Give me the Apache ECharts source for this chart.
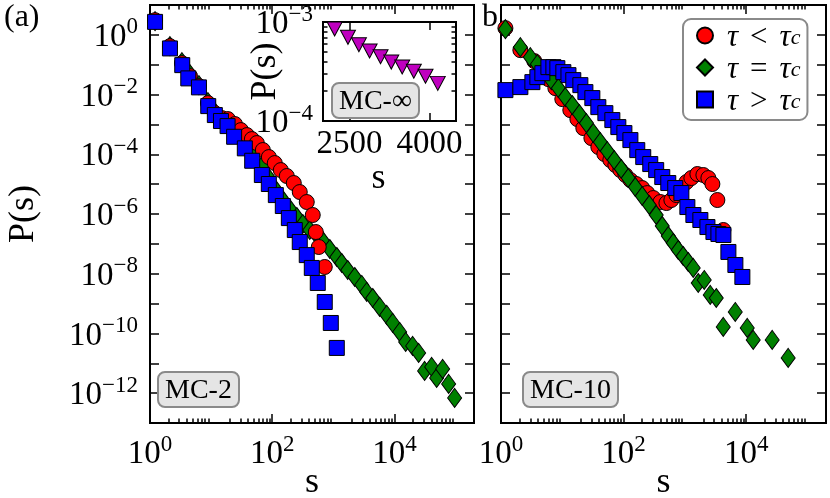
<!DOCTYPE html>
<html>
<head>
<meta charset="utf-8">
<script src="https://cdn.jsdelivr.net/npm/echarts@6/dist/echarts.min.js"></script>
<style>
  html, body { margin: 0; padding: 0; background: #fff; }
  #chart { width: 830px; height: 498px; }
</style>
</head>
<body>
<div id="chart"></div>
<script>
// ---- data ----
// panel (a), MC-2
const sLowA = [1.21, 2.12, 3.33, 4.5, 6.32, 8.87, 11.5, 15.0, 18.8, 24.5, 30.7, 38.5, 46.4, 56.0, 70.2, 88.0, 110, 138, 173, 225, 282, 367, 460, 516, 577, 723];
const pLowA = [3.10, 0.418, 0.113, 0.0415, 0.0192, 0.00518, 0.0024, 0.00163, 0.00151, 0.00103, 6.47e-4, 4.40e-4, 3.23e-4, 2.38e-4, 1.39e-4, 8.07e-5, 5.08e-5, 2.96e-5, 1.87e-5, 1.09e-5, 5.44e-6, 2.52e-6, 9.25e-7, 2.49e-7, 7.85e-8, 1.68e-8];
const sEqA = [1.21, 2.12, 3.33, 4.5, 6.32, 8.87, 11.5, 18.8, 24.5, 35.6, 46.4, 67.6, 88.0, 114.5, 149, 194, 252, 316, 411, 535, 671, 873, 1138, 1371, 1718, 2239, 2911, 3516, 4406, 5729, 7464, 9354, 12160, 15240, 19820, 24850, 31120, 40550, 48970, 61370, 76900, 96400];
const pEqA = [2.9, 0.42, 0.122, 0.0484, 0.0207, 0.0056, 0.00259, 0.00111, 6.47e-4, 2.56e-4, 1.10e-4, 4.03e-5, 1.60e-5, 6.35e-6, 2.94e-6, 1.47e-6, 7.93e-7, 4.62e-7, 2.91e-7, 1.98e-7, 1.25e-7, 6.73e-8, 3.63e-8, 2.29e-8, 1.33e-8, 7.78e-9, 4.20e-9, 2.45e-9, 1.54e-9, 7.71e-10, 4.16e-10, 2.25e-10, 1.12e-10, 5.20e-11, 3.82e-11, 2.23e-11, 5.56e-12, 7.57e-12, 3.24e-12, 6.49e-12, 2.04e-12, 6.94e-13];
const sHighA = [1.21, 2.12, 3.37, 4.23, 6.32, 8.97, 11.5, 14.5, 18.6, 23.8, 35.6, 47.0, 67.6, 87.9, 114.5, 149, 187, 234, 282, 367, 444, 556, 723, 908, 1138];
const pHighA = [2.72, 0.351, 0.0968, 0.0348, 0.0174, 0.00411, 0.00206, 0.0013, 8.8e-4, 3.86e-4, 1.58e-4, 6.07e-5, 2.02e-5, 1.01e-5, 4.3e-6, 1.85e-6, 7.3e-7, 2.9e-7, 1.15e-7, 4.2e-8, 1.56e-8, 4.9e-9, 1.13e-9, 2.24e-10, 3.27e-11];

// panel (b), MC-10
const sLowB = [1.18, 2.07, 3.50, 4.56, 5.93, 7.70, 10.0, 13.5, 17.6, 22.0, 29.8, 38.7, 48.5, 60.7, 73.3, 88.4, 107, 129, 161, 201, 243, 305, 398, 499, 601, 726, 875, 1057, 1274, 1596, 2000, 2413, 2805, 3381, 4236];
const pLowB = [1.68, 0.308, 0.132, 0.0659, 0.0329, 0.01645, 0.00705, 0.00302, 0.00151, 7.55e-4, 3.49e-4, 1.75e-4, 1.02e-4, 6.41e-5, 4.36e-5, 2.96e-5, 2.02e-5, 1.37e-5, 1.01e-5, 7.40e-6, 5.03e-6, 3.43e-6, 2.52e-6, 2.33e-6, 2.94e-6, 4.31e-6, 7.40e-6, 1.17e-5, 1.60e-5, 2.18e-5, 2.02e-5, 1.60e-5, 1.01e-5, 2.94e-6, 2.91e-7];
const sEqB = [1.18, 2.07, 3.01, 3.92, 5.10, 6.63, 8.63, 11.2, 14.6, 19.0, 24.7, 32.1, 41.7, 54.2, 70.5, 91.6, 119, 155, 201, 262, 340, 427, 535, 645, 778, 938, 1132, 1365, 1648, 2065, 2587, 3243, 4217, 6618, 10380, 13000, 26500, 48300];
const pEqB = [1.55, 0.388, 0.179, 0.1045, 0.0564, 0.0305, 0.01645, 0.00822, 0.00444, 0.00222, 0.00111, 5.14e-4, 2.56e-4, 1.28e-4, 6.41e-5, 3.21e-5, 1.60e-5, 8.0e-6, 4.0e-6, 2.0e-6, 9.25e-7, 3.96e-7, 1.83e-7, 1.07e-7, 6.24e-8, 3.93e-8, 2.47e-8, 1.56e-8, 4.90e-9, 6.18e-9, 1.95e-9, 1.54e-9, 1.65e-10, 5.24e-10, 1.53e-10, 6.05e-11, 6.05e-11, 1.51e-11];
const sHighB = [1.18, 2.07, 3.25, 3.92, 4.73, 5.93, 7.15, 8.30, 10.4, 12.6, 15.1, 19.7, 23.8, 30.9, 38.7, 50.4, 65.5, 82.0, 103, 129, 167, 209, 272, 340, 427, 535, 695, 875, 1096, 1374, 1786, 2328, 2917, 3518, 4246, 5117, 6653, 8650];
const pHighB = [0.0141, 0.0178, 0.0261, 0.0384, 0.0521, 0.0830, 0.0830, 0.0768, 0.0564, 0.0448, 0.0305, 0.0207, 0.0121, 0.00762, 0.0038, 0.00239, 0.0014, 8.15e-4, 5.14e-4, 2.99e-4, 1.38e-4, 8.07e-5, 4.71e-5, 2.96e-5, 1.73e-5, 1.09e-5, 7.40e-6, 5.03e-6, 1.71e-6, 9.25e-7, 6.29e-7, 3.66e-7, 2.49e-7, 2.14e-7, 1.98e-7, 5.35e-8, 1.96e-8, 7.78e-9];

// inset, MC-inf
const sInf = [2219, 2469, 2675, 2876, 3082, 3283, 3489, 3707, 3927, 4157];
const pInf = [8.5e-4, 7.0e-4, 5.9e-4, 5.1e-4, 4.46e-4, 3.94e-4, 3.51e-4, 3.18e-4, 2.83e-4, 2.4e-4];

// tick values
const xMajor = [1, 100, 10000];
const xMinor = [2, 3, 4, 5, 6, 7, 8, 9, 20, 30, 40, 50, 60, 70, 80, 90, 200, 300, 400, 500, 600, 700, 800, 900,
  2000, 3000, 4000, 5000, 6000, 7000, 8000, 9000, 20000, 30000, 40000, 50000, 60000, 70000, 80000, 90000];
const yMajor = [10, 1, 1e-1, 1e-2, 1e-3, 1e-4, 1e-5, 1e-6, 1e-7, 1e-8, 1e-9, 1e-10, 1e-11, 1e-12, 1e-13];
const yLabels = [1, 1e-2, 1e-4, 1e-6, 1e-8, 1e-10, 1e-12];
const insetX = [2500, 4000];
const insetYMinor = [2e-4, 3e-4, 4e-4, 5e-4, 6e-4, 7e-4, 8e-4, 9e-4];
const insetYLabels = [1e-4, 1e-3];

const legendSign = { lt: '<', eq: '=', gt: '>' };

// ---- styling ----
const FONT = 'Liberation Serif';
const RED = '#ff0000', GREEN = '#008000', BLUE = '#0000ff', PURPLE = '#bf00bf';

const labelRich = {
  b: { fontFamily: FONT, fontSize: 33, lineHeight: 38, verticalAlign: 'bottom', color: '#000' },
  e: { fontFamily: FONT, fontSize: 23, lineHeight: 22, verticalAlign: 'top', color: '#000' }
};
const nameStyle = { fontFamily: FONT, fontSize: 36, color: '#000' };

function powLabel(v) {
  const e = Math.round(Math.log10(v));
  return '{b|10}{e|' + (e < 0 ? '\u2212' + (-e) : e) + '}';
}

function pairs(xs, ys) {
  return xs.map((x, i) => [x, ys[i]]);
}

function tickAxis(type, grid, position, min, max, ticks, len, extra) {
  const a = {
    type: type, gridIndex: grid, position: position, min: min, max: max,
    axisLine: { show: false },
    axisTick: { show: true, inside: true, length: len, customValues: ticks, lineStyle: { color: '#000', width: 1.5 } },
    axisLabel: { show: false },
    splitLine: { show: false },
    minorTick: { show: false },
    nameMoveOverlap: false
  };
  return Object.assign(a, extra || {});
}

const xAxes = [];
const yAxes = [];
[0, 1].forEach(g => {
  xAxes.push(tickAxis('log', g, 'bottom', 1, 2e5, xMajor, 9, {
    axisLabel: { show: true, customValues: xMajor, formatter: powLabel, rich: labelRich, margin: 10 },
    name: 's', nameLocation: 'middle', nameGap: 42, nameTextStyle: nameStyle
  }));
  xAxes.push(tickAxis('log', g, 'bottom', 1, 2e5, xMinor, 4.5));
  xAxes.push(tickAxis('log', g, 'top', 1, 2e5, xMajor, 9));
  xAxes.push(tickAxis('log', g, 'top', 1, 2e5, xMinor, 4.5));
  const left = g === 0 ? {
    axisLabel: { show: true, customValues: yLabels, formatter: powLabel, rich: labelRich, margin: 12 },
    name: 'P(s)', nameLocation: 'middle', nameGap: 108, nameRotate: 90, nameTextStyle: nameStyle
  } : null;
  yAxes.push(tickAxis('log', g, 'left', 1e-13, 10, yMajor, 9, left));
  yAxes.push(tickAxis('log', g, 'right', 1e-13, 10, yMajor, 9));
});
// inset axes
xAxes.push(tickAxis('value', 2, 'bottom', 2000, 4500, insetX, 8, {
  axisLabel: { show: true, customValues: insetX, formatter: v => String(v), fontFamily: FONT, fontSize: 33, color: '#000', margin: 7 },
  name: 's', nameLocation: 'middle', nameGap: 40,
  nameTextStyle: Object.assign({ padding: [0, 22, 0, 0] }, nameStyle)
}));
xAxes.push(tickAxis('value', 2, 'top', 2000, 4500, insetX, 8));
yAxes.push(tickAxis('log', 2, 'left', 1e-4, 1e-3, insetYMinor, 4.5, {
  axisLabel: { show: true, customValues: insetYLabels, formatter: powLabel, rich: labelRich, margin: 10 },
  name: 'P(s)', nameLocation: 'middle', nameGap: 39, nameRotate: 90, nameTextStyle: nameStyle
}));
yAxes.push(tickAxis('log', 2, 'right', 1e-4, 1e-3, insetYMinor, 4.5));

function scatter(name, data, xi, yi, symbol, size, color, z) {
  return {
    type: 'scatter', name: name, data: data, xAxisIndex: xi, yAxisIndex: yi,
    symbol: symbol, symbolSize: size, z: z,
    itemStyle: { color: color, borderColor: '#000', borderWidth: 1, opacity: 1 },
    emphasis: { disabled: true }
  };
}

const boxStyle = {
  backgroundColor: '#e5e5e5', borderColor: '#8a8a8a', borderWidth: 2, borderRadius: 7,
  padding: [4, 7, 2, 7],
  textStyle: { fontFamily: FONT, fontSize: 28, fontWeight: 'normal', color: '#000', lineHeight: 29 }
};

const legendRich = {
  g: { width: 9 },
  i: { fontFamily: FONT, fontSize: 31, fontStyle: 'italic', lineHeight: 27, verticalAlign: 'top', color: '#000' },
  o: { fontFamily: FONT, fontSize: 31, lineHeight: 27, verticalAlign: 'top', color: '#000', padding: [0, 12, 0, 12] },
  s: { fontFamily: FONT, fontSize: 22, fontStyle: 'italic', lineHeight: 16, verticalAlign: 'bottom', color: '#000' }
};

const gridBase = { show: true, borderColor: '#000', borderWidth: 2, outerBoundsMode: 'none', containLabel: false };

const option = {
  animation: false,
  backgroundColor: '#fff',
  grid: [
    Object.assign({ left: 150, top: 5, width: 324, height: 418, backgroundColor: 'transparent' }, gridBase),
    Object.assign({ left: 501, top: 5, width: 325, height: 418, backgroundColor: 'transparent' }, gridBase),
    Object.assign({ left: 323, top: 22, width: 133, height: 99, backgroundColor: '#fff' }, gridBase)
  ],
  xAxis: xAxes,
  yAxis: yAxes,
  title: [
    { text: '(a)', left: 4, top: 2, textStyle: { fontFamily: FONT, fontSize: 32, fontWeight: 'normal', color: '#000' }, padding: 0 },
    { text: 'b', left: 482, top: 2, textStyle: { fontFamily: FONT, fontSize: 32, fontWeight: 'normal', color: '#000' }, padding: 0 },
    Object.assign({ text: 'MC-2', left: 158, top: 372 }, boxStyle),
    Object.assign({ text: 'MC-10', left: 523, top: 372 }, boxStyle),
    Object.assign({ text: 'MC-\u221e', left: 332, top: 83 }, boxStyle)
  ],
  legend: {
    data: [
      { name: 'lt', icon: 'circle' },
      { name: 'eq', icon: 'diamond' },
      { name: 'gt', icon: 'rect' }
    ],
    orient: 'vertical', left: 683, top: 19,
    itemWidth: 16, itemHeight: 16, itemGap: 1,
    padding: [3, 7, 3, 13],
    backgroundColor: 'rgba(255,255,255,0.9)', borderColor: '#8a8a8a', borderWidth: 2, borderRadius: 8,
    selectedMode: false,
    formatter: n => '{g|}{i|\u03c4}{o|' + legendSign[n] + '}{i|\u03c4}{s|c}',
    textStyle: { rich: legendRich }
  },
  series: [
    scatter('eq', pairs(sEqA, pEqA), 0, 0, 'diamond', [14, 19], GREEN, 2),
    scatter('lt', pairs(sLowA, pLowA), 0, 0, 'circle', 15, RED, 3),
    scatter('gt', pairs(sHighA, pHighA), 0, 0, 'rect', 15, BLUE, 4),
    scatter('lt', pairs(sLowB, pLowB), 4, 2, 'circle', 15, RED, 2),
    scatter('eq', pairs(sEqB, pEqB), 4, 2, 'diamond', [14, 19], GREEN, 3),
    scatter('gt', pairs(sHighB, pHighB), 4, 2, 'rect', 15, BLUE, 4),
    scatter('inf', pairs(sInf, pInf), 8, 4, 'triangle', [15, 14], PURPLE, 5)
  ]
};
option.series[6].symbolRotate = 180;

const chart = echarts.init(document.getElementById('chart'), null, { renderer: 'canvas' });
chart.setOption(option);
</script>
</body>
</html>
